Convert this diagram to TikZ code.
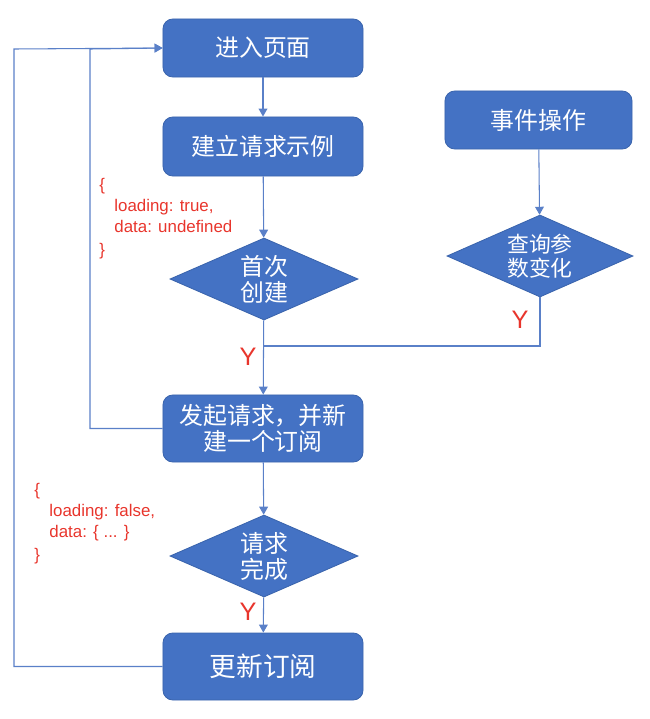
\documentclass[tikz,border=0pt]{standalone}
\usepackage{fontspec}
\setmainfont{Noto Sans CJK SC}
\newfontfamily\notefont{Liberation Sans}
\usetikzlibrary{arrows.meta, positioning, shapes.geometric}
\definecolor{boxblue}{HTML}{4472C4}
\definecolor{boxedge}{HTML}{3A64AD}
\definecolor{linkblue}{HTML}{5A80C8}
\definecolor{notered}{HTML}{E8352C}

\begin{document}
\begin{tikzpicture}[
    x=0.025cm, y=-0.025cm,
    block/.style={draw=boxedge, line width=0.6pt, rounded corners=7pt, fill=boxblue, text=white, minimum width=5cm, minimum height=#1, align=center, font=\fontsize{17}{19}\selectfont},
    decision/.style={diamond, draw=boxedge, line width=0.6pt, fill=boxblue, text=white, inner sep=0pt, aspect=2.3, minimum width=4.7cm, minimum height=2.05cm, align=center, font=\fontsize{17}{18.5}\selectfont},
    arrow/.style={-{Triangle[length=2mm, width=2.2mm]}, draw=linkblue, line width=0.75pt},
    link/.style={draw=linkblue, line width=0.75pt},
    note/.style={anchor=north west, align=left, text=notered, inner sep=0pt, font=\notefont\fontsize{12}{15}\selectfont},
    yes/.style={text=notered, inner sep=0pt, font=\notefont\fontsize{18}{18}\selectfont}
]
\useasboundingbox (0,0) rectangle (650,719);

\node[block=1.45cm] (enter) at (263,48) {进入页面};
\node[block=1.475cm] (build) at (263,146.5) {建立请求示例};
\node[decision] (first) at (264,279) {首次\\创建};
\node[block=1.675cm] (request) at (263,428.5) {发起请求，并新\\建一个订阅};
\node[decision] (done) at (264,556) {请求\\完成};
\node[block=1.675cm, font=\fontsize{19}{21}\selectfont] (update) at (263,666.5) {更新订阅};

\node[block=1.45cm, minimum width=4.675cm] (event) at (538.5,120) {事件操作};
\node[decision, minimum width=4.65cm, font=\fontsize{15.5}{17.5}\selectfont] (query) at (540,256) {查询参\\数变化};

\coordinate (merge) at (263,346);
\coordinate (inner) at (90,49);
\coordinate (outer) at (14,49);

\draw[arrow] (enter) -- (build);
\draw[arrow] (build) -- (first);
\draw[arrow] (first) -- (request);
\draw[arrow] (request) -- (done);
\draw[arrow] (done) -- (update);
\draw[arrow] (event) -- (query);
\draw[link] (query.south) |- (merge);

% loops back to the top
\draw[arrow] (request.west) -| (inner) -- (enter.west);
\draw[arrow] (update.west) -| (outer) -- (enter.west);

\node[yes] (y1) at (248,357) {Y};
\node[yes] (y2) at (520,320) {Y};
\node[yes] (y3) at (248,612) {Y};

\node[note] (state1) at (99,178) {\{\\\hspace*{0.9em}loading: true,\\\hspace*{0.9em}data: undefined\\[1pt]\}};
\node[note] (state2) at (34,483) {\{\\\hspace*{0.9em}loading: false,\\\hspace*{0.9em}data: \{ ... \}\\[1pt]\}};
\end{tikzpicture}
\end{document}
